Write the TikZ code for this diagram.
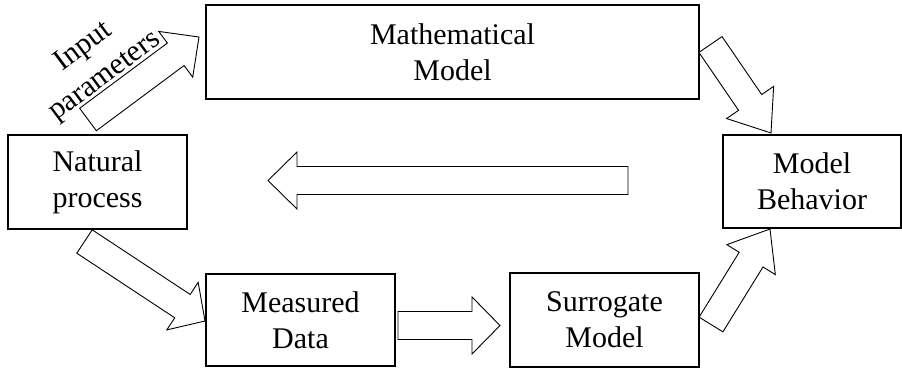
\documentclass[tikz,border=0pt]{standalone}
\usepackage{fontspec}
\setmainfont{Liberation Serif}
\usetikzlibrary{calc}
\newcommand{\BlkArrow}[3]{%
  \path coordinate (tmphead) at ($(#2)!#3!(#1)$);
  \draw[blockarrow]
    ($(#1)!14pt!90:(#2)$) --
    ($(tmphead)!14pt!90:(#2)$) --
    ($(tmphead)!28.5pt!90:(#2)$) --
    (#2) --
    ($(tmphead)!28.5pt!-90:(#2)$) --
    ($(tmphead)!14pt!-90:(#2)$) --
    ($(#1)!14pt!-90:(#2)$) -- cycle;
}
\tikzset{
  box/.style={draw, line width=1.5pt, align=center, inner sep=0pt,
    font=\fontsize{30}{36}\selectfont},
  blockarrow/.style={draw, line width=0.9pt, fill=white, line join=miter},
  lbl/.style={align=center, inner sep=0pt, font=\fontsize{30}{36}\selectfont}
}
\begin{document}
\begin{tikzpicture}[x=1pt,y=-1pt]
\useasboundingbox (0,0) rectangle (902,369);
% boxes
\node[box, minimum width=493pt, minimum height=94pt] (math) at (452.5,52) {Mathematical\\Model};
\node[box, minimum width=179pt, minimum height=94pt] (nat) at (97.5,182) {Natural\\process};
\node[box, minimum width=189pt, minimum height=92pt] (meas) at (300.5,320) {Measured\\Data};
\node[box, minimum width=189pt, minimum height=94pt] (surr) at (604.5,320) {Surrogate\\Model};
\node[box, minimum width=178pt, minimum height=93pt] (beh) at (812,181.5) {Model\\Behavior};
% arrow end points
\coordinate (a1t) at (88,119.5);  \coordinate (a1p) at (199,37);
\coordinate (a2t) at (710.5,44.5); \coordinate (a2p) at (771,133);
\coordinate (a3t) at (628,180.5);  \coordinate (a3p) at (268,180.5);
\coordinate (a4t) at (84.5,241.5); \coordinate (a4p) at (205,321);
\coordinate (a5t) at (398,325.5);  \coordinate (a5p) at (500,325.5);
\coordinate (a6t) at (711,324.5);  \coordinate (a6p) at (770,229);
% block arrows
\BlkArrow{a1t}{a1p}{29pt}
\BlkArrow{a2t}{a2p}{37pt}
\BlkArrow{a3t}{a3p}{29pt}
\BlkArrow{a4t}{a4p}{27pt}
\BlkArrow{a5t}{a5p}{28pt}
\BlkArrow{a6t}{a6p}{36pt}
% label
\node[lbl, rotate=36.6] (inp) at (94.5,62) {Input\\parameters};
\end{tikzpicture}
\end{document}
